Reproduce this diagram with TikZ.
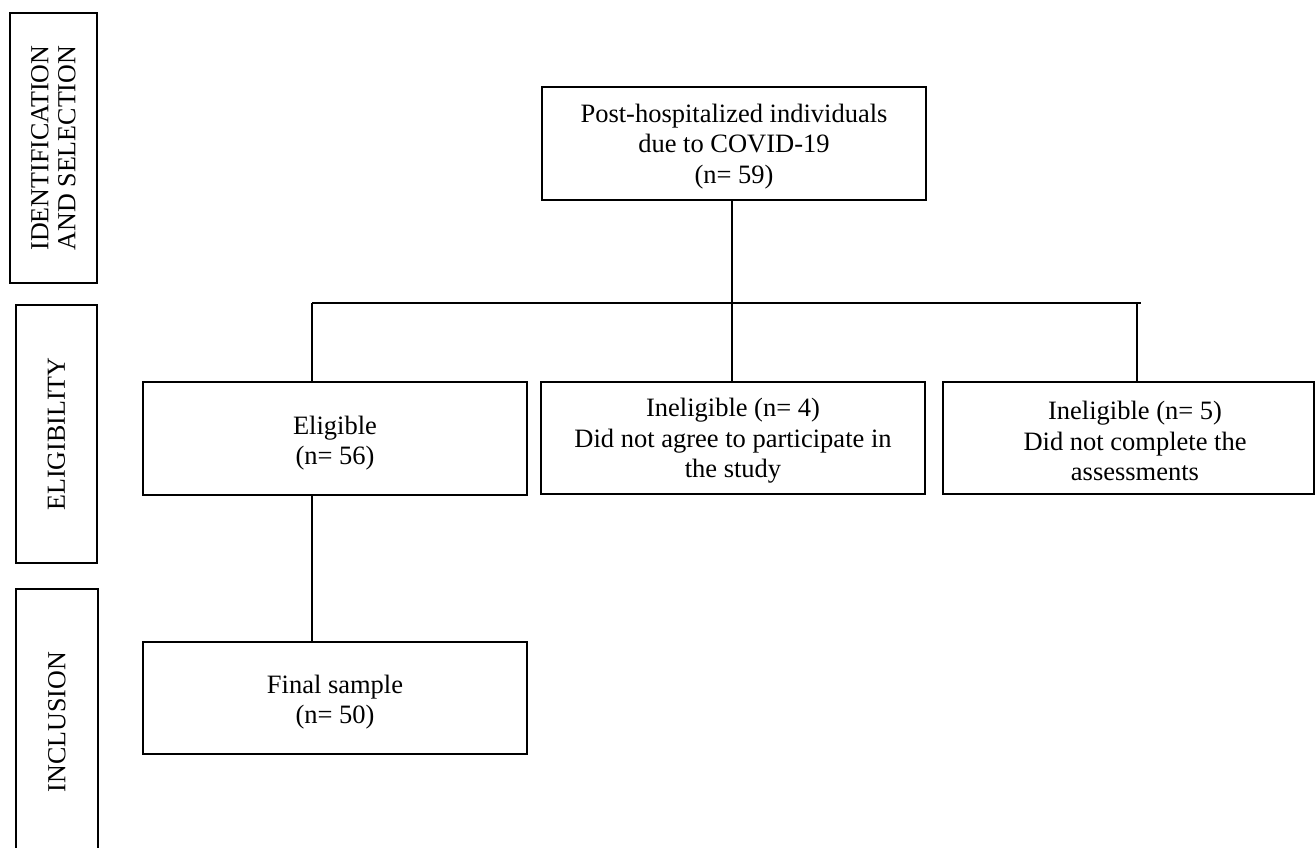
\documentclass[tikz,border=0pt]{standalone}
\usepackage{fontspec}
\setmainfont{Liberation Serif}
\newcommand{\boxfont}{\fontsize{26.5}{30.5}\selectfont}
\newcommand{\sidefont}{\fontsize{26}{27}\selectfont}
\begin{document}
\begin{tikzpicture}[x=1pt,y=-1pt,
  flowbox/.style={draw, line width=1.9pt, align=center, inner sep=0pt, font=\boxfont,
    minimum height=113pt},
  boxtext/.style={align=center, inner sep=0pt, font=\boxfont},
  sidebox/.style={draw, line width=1.9pt, align=center, inner sep=0pt, font=\sidefont, rotate=90},
  conn/.style={line width=2pt}]
\useasboundingbox (0,0) rectangle (1315,847);
% side labels
\node[sidebox, minimum width=270pt, minimum height=87pt] (sid) at (53.5,148) {IDENTIFICATION\\AND SELECTION};
\node[sidebox, minimum width=258pt, minimum height=81pt] (sel) at (56.5,434) {ELIGIBILITY};
\node[sidebox, minimum width=266pt, minimum height=82pt] (sinc) at (57,722) {INCLUSION};
% flow boxes
\node[flowbox, minimum width=384pt] (top) at (734,143.5) {};
\node[boxtext] (toptxt) at (734,146.5) {Post-hospitalized individuals\\due to COVID-19\\(n= 59)};
\node[flowbox, minimum width=384pt] (elig) at (335,438.5) {};
\node[boxtext] (eligtxt) at (335,443) {Eligible\\(n= 56)};
\node[flowbox, minimum width=384pt, minimum height=112pt] (inel4) at (733,438) {};
\node[boxtext] (inel4txt) at (733,441) {Ineligible (n= 4)\\Did not agree to participate in\\the study};
\node[flowbox, minimum width=371pt, minimum height=112pt] (inel5) at (1128.5,438) {};
\node[boxtext] (inel5txt) at (1135,441) {Ineligible (n= 5)\\Did not complete the\\assessments};
\node[flowbox, minimum width=384pt, minimum height=112pt] (final) at (335,698) {};
\node[boxtext] (finaltxt) at (335,702) {Final sample\\(n= 50)};
% connectors
\coordinate (barL) at (312,303);
\coordinate (barR) at (1141,303);
\coordinate (dropR) at (1137,303);
\coordinate (barM) at (732,303);
\draw[conn] (barL) -- (barR);
\draw[conn] (top.south -| barM) -- (barM);
\draw[conn] (barM) -- (inel4.north -| barM);
\draw[conn] (barL) -- (elig.north -| barL);
\draw[conn] (dropR) -- (inel5.north -| dropR);
\draw[conn] (elig.south -| barL) -- (final.north -| barL);
\end{tikzpicture}
\end{document}
